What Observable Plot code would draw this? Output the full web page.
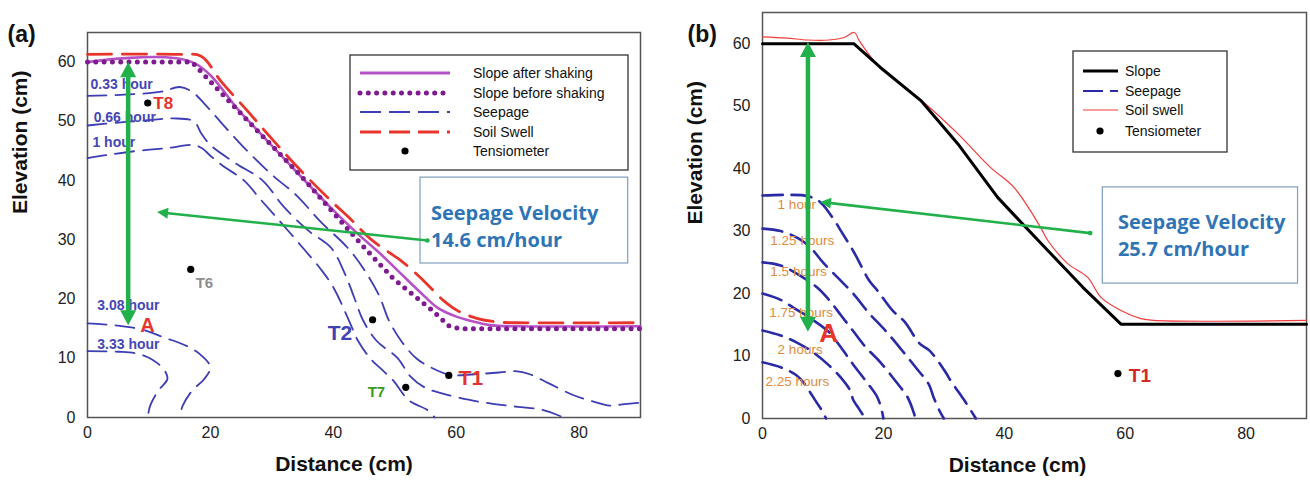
<!DOCTYPE html>
<html><head><meta charset="utf-8">
<script src="https://cdn.jsdelivr.net/npm/d3@7"></script>
<script src="https://cdn.jsdelivr.net/npm/@observablehq/plot@0.6"></script>
<style>
body{margin:0;background:#fff;}
#wrap{position:relative;width:1310px;height:484px;overflow:hidden;background:#fff;}
#pa{position:absolute;left:0;top:0;}
#pb{position:absolute;left:655px;top:0;}
</style></head><body><div id="wrap"><div id="pa"></div><div id="pb"></div></div>
<script>
// ---------- shared ticks ----------
const xTicks = [0, 20, 40, 60, 80];
const yTicks = [0, 10, 20, 30, 40, 50, 60];

// ---------- Panel (a) ----------
const aSlopeAfterX  = [0, 17, 25, 31, 39.7, 44, 47.7, 51, 54.2, 57, 59.6, 62.4, 65.5, 70, 90];
const aSlopeAfterY  = [60, 60, 51.4, 44.8, 35.3, 31, 27.6, 24.3, 21.1, 18.5, 17.2, 16.3, 15.6, 15.4, 15.4];
const aSlopeBeforeX = [0, 17, 26, 35, 44.5, 49.8, 56.2, 58.8, 60.5, 90];
const aSlopeBeforeY = [60, 60, 50.2, 40.5, 29.3, 23.4, 18, 15.5, 15, 15];
const aSwellX = [0, 15, 18.5, 21.7, 26, 30.3, 34.7, 39.6, 42.8, 46, 49.3, 51, 54.2, 58, 60.3, 63.5, 67, 70, 90];
const aSwellY = [61.3, 61.3, 61, 56.8, 51.8, 46.7, 41.7, 36.6, 33.5, 30.2, 27.7, 26.5, 23.6, 19.7, 18, 16.7, 16.1, 16, 16];

const aSeep033X = [0, 6, 12, 15, 17, 19, 22, 26, 30, 34, 38, 42.3, 45, 47.5, 49, 51, 53.5, 56, 59, 63, 67, 70, 72, 75, 79, 82, 85, 87, 90];
const aSeep033Y = [54.3, 54.5, 55, 55.8, 55, 53, 49.5, 45, 41, 37.5, 33, 28.7, 25, 20.5, 16.5, 13, 10, 8.4, 7.2, 7.3, 7.6, 7.8, 7.3, 5.8, 3.8, 2.8, 2, 2.2, 2.5];
const aSeep066X = [0, 5, 10, 14, 17.3, 18.5, 20, 24, 28.5, 32, 36, 39.6, 42, 43.5, 44.8, 47, 50.5, 52.5, 55, 58, 62, 66, 70, 74, 77.5];
const aSeep066Y = [49.3, 49.8, 50.2, 50.5, 50, 48, 46, 43, 40, 35.5, 31.5, 28.7, 24, 20, 16.5, 13, 10, 7, 5, 4, 3, 2.3, 1.8, 1.3, 0];
const aSeep1X   = [0, 3, 8, 13, 17.3, 18.7, 20, 22, 25.5, 28, 31, 35, 38, 40, 42.5, 44, 46, 48, 49.8, 52.3, 55.4, 56.5];
const aSeep1Y   = [43.8, 44.3, 45, 45.5, 46, 45.4, 44.2, 42.5, 40, 37, 33.5, 28.7, 25, 22, 16.5, 13, 10, 8, 6.2, 2.9, 1.2, 0];
const aSeep308X = [0, 5, 9, 12.5, 16.3, 18.5, 20, 19, 17, 15.5, 15];
const aSeep308Y = [15.9, 15.5, 14.8, 13.5, 12, 10.5, 8.5, 6.5, 4.5, 2, 0];
const aSeep333X = [0, 5, 8, 10.5, 12.5, 13, 11.5, 10.2, 9.8];
const aSeep333Y = [11.2, 11.1, 10.8, 9.8, 8, 6.5, 4.5, 2, 0];

const aSeepLabels = ["0.33 hour", "0.66 hour", "1 hour", "3.08 hour", "3.33 hour"];
const aSeepLabelX = [0.5, 1.0, 0.8, 1.6, 1.6];
const aSeepLabelY = [56.3, 50.6, 46.4, 18.9, 12.3];

const aTensX = [9.8, 16.8, 46.4, 51.8, 58.8];
const aTensY = [53.1, 25, 16.5, 5.1, 7.1];
const aTensNames  = ["T8", "T6", "T2", "T7", "T1"];
const aTensLabelX = [10.7, 17.6, 39.1, 45.6, 60.4];
const aTensLabelY = [53, 22.6, 14.2, 4.2, 6.7];
const aTensColors = ["#e5322d", "#8e8e8e", "#4141b3", "#3d9a1c", "#e5322d"];
const aTensSizes  = [17, 15, 21, 15, 21];

const aPointA = {label: "A", x: 8.6, y: 15.5};
const aArrowX1 = [6.7, 55.4], aArrowY1 = [15.5, 29.8], aArrowX2 = [6.7, 11.4], aArrowY2 = [59.9, 34.6];
const aBox = {x1: 54.2, x2: 88, y1: 26, y2: 40.5};
const aBoxText = ["Seepage Velocity", "14.6 cm/hour"];
const aBoxTextX = 55.9, aBoxTextY = [34.4, 29.8];

// ---------- Panel (b) ----------
const bSlopeX = [0, 15.1, 19.5, 26.2, 32.3, 38.9, 42, 47.2, 53, 59.3, 90];
const bSlopeY = [60, 60, 56.2, 50.9, 44, 35.4, 32.2, 26.9, 21, 15.1, 15.1];
const bSwellX = [0, 4, 7.5, 11, 13.5, 15.2, 16, 18.4, 19.5, 26, 32.3, 37.7, 41.6, 46, 47.2, 50.5, 53.8, 56, 59.3, 62.6, 64.7, 90];
const bSwellY = [61.1, 60.9, 60.6, 60.6, 61, 61.8, 60.5, 57.3, 56.2, 51.2, 45.6, 40.2, 37, 30.6, 28.5, 24.8, 22.6, 19.4, 17.3, 16, 15.7, 15.7];

const bSeep100X = [0, 4, 7.5, 9.6, 12.1, 13, 15.2, 17.7, 19, 21.5, 23.5, 26, 27.6, 30.3, 31.1, 33.6, 35.3];
const bSeep100Y = [35.7, 35.8, 35.6, 34.6, 31.4, 30, 26.5, 22, 20.5, 17.3, 15.5, 12, 10.9, 7.4, 6.1, 2.6, 0];
const bSeep125X = [0, 3, 6, 8, 10, 12.5, 15, 17.5, 20.4, 23, 25.5, 27.5, 28.3, 29.3, 30];
const bSeep125Y = [30.4, 30, 28.8, 27.3, 25, 22.5, 20, 17, 14, 11, 8, 5.5, 3.4, 1.2, 0];
const bSeep150X = [0, 3, 6, 9, 11, 13, 15, 17, 19.5, 22, 24, 25, 25.3];
const bSeep150Y = [25, 24.5, 23, 21, 19, 16.5, 14, 11.5, 9, 6, 3.4, 1, 0];
const bSeep175X = [0, 3, 5.5, 8, 10.8, 12.5, 14, 15.5, 17.5, 19, 19.8, 20];
const bSeep175Y = [20, 19, 17.5, 16, 14, 12, 10, 8, 5.5, 3.4, 1, 0];
const bSeep200X = [0, 3, 6, 8.5, 11, 13, 14.5, 15, 16, 17];
const bSeep200Y = [14.1, 13.3, 12, 10.5, 8.5, 6.5, 4.5, 3, 1.5, 0];
const bSeep225X = [0, 3, 5.5, 7, 8, 9, 10, 10.5];
const bSeep225Y = [9, 8.2, 7, 5.5, 4, 2.5, 1, 0];

const bSeepLabels = ["1 hour", "1.25 hours", "1.5 hours", "1.75 hours", "2 hours", "2.25 hours"];
const bSeepLabelX = [2.5, 1.3, 1.3, 1.1, 2.5, 0.5];
const bSeepLabelY = [34.2, 28.5, 23.5, 17, 11, 5.9];

const bTensX = [58.8], bTensY = [7.2], bTensNames = ["T1"], bTensLabelX = [60.6], bTensLabelY = [6.8];
const bPointA = {label: "A", x: 9.4, y: 13.6};
const bArrowX1 = [7.6, 54.3], bArrowY1 = [13.8, 29.6], bArrowX2 = [7.6, 9.6], bArrowY2 = [60.2, 34.6];
const bBox = {x1: 56.3, x2: 88.6, y1: 21.6, y2: 37};
const bBoxText = ["Seepage Velocity", "25.7 cm/hour"];
const bBoxTextX = 58.8, bBoxTextY = [31.4, 27.1];

// ---------- styling ----------
const GREEN = "#22b04b";
const FONT = "Liberation Sans, Arial, sans-serif";
const pts = (xs, ys) => xs.map((x, i) => [x, ys[i]]);

function arrowMark(x1s, y1s, x2s, y2s, specs) {
  return (index, scales) => {
    const g = d3.create("svg:g");
    x1s.forEach((_, i) => {
      const s = specs[i];
      const X1 = scales.x(x1s[i]), Y1 = scales.y(y1s[i]), X2 = scales.x(x2s[i]), Y2 = scales.y(y2s[i]);
      const dx = X2 - X1, dy = Y2 - Y1, len = Math.hypot(dx, dy), ux = dx / len, uy = dy / len;
      const L = s.head, W = s.half;
      const sx = s.both ? X1 + ux * L * 0.8 : X1, sy = s.both ? Y1 + uy * L * 0.8 : Y1;
      const ex = X2 - ux * L * 0.8, ey = Y2 - uy * L * 0.8;
      g.append("line").attr("x1", sx).attr("y1", sy).attr("x2", ex).attr("y2", ey)
        .attr("stroke", GREEN).attr("stroke-width", s.w).attr("stroke-linecap", "round");
      const tri = (tx, ty, vx, vy) => {
        const bx = tx - vx * L, by = ty - vy * L;
        return `M${tx},${ty}L${bx - vy * W},${by + vx * W}L${bx + vy * W},${by - vx * W}Z`;
      };
      g.append("path").attr("d", tri(X2, Y2, ux, uy)).attr("fill", GREEN);
      if (s.both) g.append("path").attr("d", tri(X1, Y1, -ux, -uy)).attr("fill", GREEN);
      else g.append("circle").attr("cx", X1).attr("cy", Y1).attr("r", s.w * 0.9).attr("fill", GREEN);
    });
    return g.node();
  };
}

function legendMark(L) {
  return () => {
    const g = d3.create("svg:g");
    g.append("rect").attr("x", L.box[0]).attr("y", L.box[1]).attr("width", L.box[2]).attr("height", L.box[3])
      .attr("fill", "white").attr("stroke", "#333").attr("stroke-width", 1.3);
    L.items.forEach((it, i) => {
      const y = L.rows[i];
      if (it.kind === "dot") {
        g.append("circle").attr("cx", L.dotX).attr("cy", y).attr("r", 3.6).attr("fill", "#000");
      } else {
        g.append("line").attr("x1", L.sx[0]).attr("x2", L.sx[1]).attr("y1", y).attr("y2", y)
          .attr("stroke", it.color).attr("stroke-width", it.width)
          .attr("stroke-dasharray", it.dash || null).attr("stroke-linecap", it.cap || "butt");
      }
      g.append("text").attr("x", L.tx).attr("y", y).attr("dy", "0.36em").attr("font-size", L.fs)
        .attr("text-anchor", "start")
        .attr("font-family", FONT).attr("fill", "#111").text(it.label);
    });
    return g.node();
  };
}

const axisStyle = {fontFamily: FONT, fontSize: "16px", color: "#222", background: "white", overflow: "visible"};

// ---------- Plot (a) ----------
const seepA = [[aSeep033X, aSeep033Y], [aSeep066X, aSeep066Y], [aSeep1X, aSeep1Y], [aSeep308X, aSeep308Y], [aSeep333X, aSeep333Y]];
const plotA = Plot.plot({
  width: 655, height: 484,
  marginLeft: 87, marginRight: 15, marginTop: 32, marginBottom: 67,
  x: {domain: [0, 90], ticks: xTicks, tickSize: 0, tickPadding: 9, label: null},
  y: {domain: [0, 65], ticks: yTicks, tickSize: 0, tickPadding: 12, label: null},
  style: axisStyle,
  marks: [
    Plot.frame({stroke: "#555", strokeWidth: 1.5}),
    ...seepA.map(([xs, ys]) => Plot.line(pts(xs, ys), {curve: "catmull-rom", stroke: "#3d3db5", strokeWidth: 1.8, strokeDasharray: "19 9"})),
    Plot.line(pts(aSwellX, aSwellY), {curve: "catmull-rom", stroke: "#e8352b", strokeWidth: 2.8, strokeDasharray: "24 11"}),
    Plot.line(pts(aSlopeAfterX, aSlopeAfterY), {curve: "catmull-rom", stroke: "#b652c7", strokeWidth: 2.6}),
    Plot.line(pts(aSlopeBeforeX, aSlopeBeforeY), {stroke: "#7d1b8f", strokeWidth: 5, strokeDasharray: "0 8.3", strokeLinecap: "round"}),
    Plot.text(aSeepLabels, {x: (d, i) => aSeepLabelX[i], y: (d, i) => aSeepLabelY[i], text: d => d, textAnchor: "start", fill: "#4646b6", fontSize: 14, fontWeight: "bold", fontFamily: FONT}),
    Plot.dot(pts(aTensX, aTensY), {r: 3.6, fill: "#000", stroke: "none"}),
    Plot.text(aTensNames, {x: (d, i) => aTensLabelX[i], y: (d, i) => aTensLabelY[i], text: d => d, textAnchor: "start", fill: (d, i) => aTensColors[i], fontSize: (d, i) => aTensSizes[i], fontWeight: 600, fontFamily: FONT}),
    Plot.text([aPointA], {x: "x", y: "y", text: "label", textAnchor: "start", fill: "#e8352b", fontSize: 20, fontWeight: "bold", fontFamily: FONT}),
    Plot.rect([aBox], {x1: "x1", x2: "x2", y1: "y1", y2: "y2", fill: "white", stroke: "#7f9dbf", strokeWidth: 1.2}),
    Plot.text(aBoxText, {x: aBoxTextX, y: (d, i) => aBoxTextY[i], text: d => d, textAnchor: "start", fill: "#2f74b5", fontSize: 20, fontWeight: "bold", fontFamily: "Open Sans, sans-serif"}),
    arrowMark(aArrowX1, aArrowY1, aArrowX2, aArrowY2, [{w: 4.5, head: 15, half: 8, both: true}, {w: 2.6, head: 11, half: 5.5, both: false}]),
    legendMark({box: [350, 55, 278, 115], rows: [73, 93, 112, 132, 151], sx: [360, 450], tx: 473, dotX: 405, fs: 14,
      items: [
        {label: "Slope after shaking", color: "#b652c7", width: 3},
        {label: "Slope before shaking", color: "#7d1b8f", width: 5, dash: "0 8.3", cap: "round"},
        {label: "Seepage", color: "#3d3db5", width: 2, dash: "21 8"},
        {label: "Soil Swell", color: "#e8352b", width: 3, dash: "21 8"},
        {label: "Tensiometer", kind: "dot"}
      ]}),
    Plot.text(["Distance (cm)"], {frameAnchor: "bottom", dx: -20, dy: 53, text: d => d, fontSize: 21, fontWeight: "bold", fontFamily: FONT, fill: "#111"}),
    Plot.text(["Elevation (cm)"], {frameAnchor: "left", dx: -67, dy: -11, rotate: -90, text: d => d, fontSize: 21, fontWeight: "bold", fontFamily: FONT, fill: "#111"}),
    Plot.text(["(a)"], {frameAnchor: "top-left", dx: -80, dy: -7, textAnchor: "start", text: d => d, fontSize: 23, fontWeight: "bold", fontFamily: FONT, fill: "#111"})
  ]
});
document.getElementById("pa").appendChild(plotA);

// ---------- Plot (b) ----------
const seepB = [[bSeep100X, bSeep100Y], [bSeep125X, bSeep125Y], [bSeep150X, bSeep150Y], [bSeep175X, bSeep175Y], [bSeep200X, bSeep200Y], [bSeep225X, bSeep225Y]];
const plotB = Plot.plot({
  width: 655, height: 484,
  marginLeft: 107, marginRight: 4, marginTop: 12, marginBottom: 66,
  x: {domain: [0, 90], ticks: xTicks, tickSize: 0, tickPadding: 9, label: null},
  y: {domain: [0, 65], ticks: yTicks, tickSize: 0, tickPadding: 12, label: null},
  style: axisStyle,
  marks: [
    Plot.frame({stroke: "#555", strokeWidth: 1.5}),
    ...seepB.map(([xs, ys]) => Plot.line(pts(xs, ys), {curve: "catmull-rom", stroke: "#2a2aa6", strokeWidth: 2.6, strokeDasharray: "20 9"})),
    Plot.line(pts(bSwellX, bSwellY), {curve: "catmull-rom", stroke: "#f23c3c", strokeWidth: 1.2}),
    Plot.line(pts(bSlopeX, bSlopeY), {stroke: "#000", strokeWidth: 3}),
    Plot.text(bSeepLabels, {x: (d, i) => bSeepLabelX[i], y: (d, i) => bSeepLabelY[i], text: d => d, textAnchor: "start", fill: "#e08a3c", fontSize: 13.5, fontFamily: FONT}),
    Plot.dot(pts(bTensX, bTensY), {r: 3.6, fill: "#000", stroke: "none"}),
    Plot.text(bTensNames, {x: (d, i) => bTensLabelX[i], y: (d, i) => bTensLabelY[i], text: d => d, textAnchor: "start", fill: "#d42a25", fontSize: 19, fontWeight: 600, fontFamily: FONT}),
    Plot.text([bPointA], {x: "x", y: "y", text: "label", textAnchor: "start", fill: "#e8352b", fontSize: 26, fontWeight: "bold", fontFamily: FONT}),
    Plot.rect([bBox], {x1: "x1", x2: "x2", y1: "y1", y2: "y2", fill: "white", stroke: "#7f9dbf", strokeWidth: 1.2}),
    Plot.text(bBoxText, {x: bBoxTextX, y: (d, i) => bBoxTextY[i], text: d => d, textAnchor: "start", fill: "#2f74b5", fontSize: 20, fontWeight: "bold", fontFamily: "Open Sans, sans-serif"}),
    arrowMark(bArrowX1, bArrowY1, bArrowX2, bArrowY2, [{w: 4.5, head: 15, half: 8, both: true}, {w: 2.6, head: 11, half: 5.5, both: false}]),
    legendMark({box: [418, 51, 154, 101], rows: [71, 91, 110, 131], sx: [428, 463], tx: 470, dotX: 445, fs: 14,
      items: [
        {label: "Slope", color: "#000", width: 3},
        {label: "Seepage", color: "#2a2aa6", width: 2, dash: "20 7"},
        {label: "Soil swell", color: "#f23c3c", width: 1.2},
        {label: "Tensiometer", kind: "dot"}
      ]}),
    Plot.text(["Distance (cm)"], {frameAnchor: "bottom", dx: -17, dy: 53, text: d => d, fontSize: 21, fontWeight: "bold", fontFamily: FONT, fill: "#111"}),
    Plot.text(["Elevation (cm)"], {frameAnchor: "left", dx: -67, dy: 9, rotate: -90, text: d => d, fontSize: 21, fontWeight: "bold", fontFamily: FONT, fill: "#111"}),
    Plot.text(["(b)"], {frameAnchor: "top-left", dx: -75, dy: 13, textAnchor: "start", text: d => d, fontSize: 23, fontWeight: "bold", fontFamily: FONT, fill: "#111"})
  ]
});
document.getElementById("pb").appendChild(plotB);
</script></body></html>
